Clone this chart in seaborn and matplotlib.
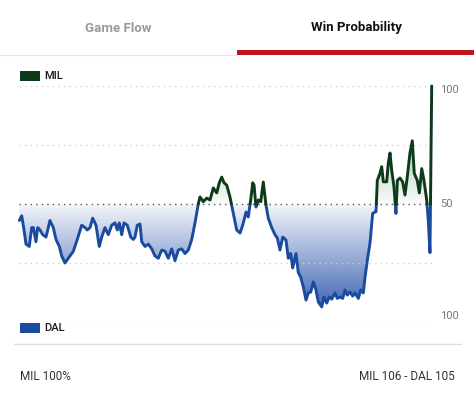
import numpy as np
import pandas as pd
import matplotlib
matplotlib.use("Agg")
import matplotlib.pyplot as plt
from matplotlib.colors import LinearSegmentedColormap
from matplotlib.path import Path
import seaborn as sns

# Game clock (minutes elapsed) and MIL win probability (%)
minutes = [
    0.0, 0.28, 0.55, 0.78, 1.16, 1.44, 1.63, 1.94, 2.14, 2.41, 2.72, 3.11, 3.57, 3.96,
    4.27, 4.66, 4.93, 5.32, 5.70, 6.29, 6.75, 7.26, 7.65, 7.91, 8.23, 8.54, 8.93, 9.31,
    9.59, 9.97, 10.36, 10.75, 11.14, 11.41, 11.64, 11.92, 12.19, 12.57, 12.97, 13.27,
    13.47, 13.73, 14.05, 14.25, 14.63, 15.01, 15.41, 15.79, 16.18, 16.57, 16.96, 17.34,
    17.74, 18.12, 18.51, 18.90, 19.29, 19.67, 20.07, 20.45, 20.83, 21.03, 21.42, 21.81,
    22.20, 22.58, 22.98, 23.28, 23.56, 23.83, 24.14, 24.52, 24.91, 25.30, 25.69, 26.00,
    26.39, 26.65, 26.93, 27.17, 27.32, 27.55, 27.82, 28.10, 28.40, 28.71, 28.98, 29.38,
    29.76, 30.03, 30.34, 30.66, 31.04, 31.31, 31.59, 31.82, 32.21, 32.47, 32.75, 33.06,
    33.37, 33.64, 33.92, 34.22, 34.53, 34.80, 35.20, 35.46, 35.78, 36.08, 36.36, 36.74,
    37.01, 37.33, 37.64, 37.91, 38.18, 38.49, 38.80, 39.07, 39.46, 39.74, 40.04, 40.24,
    40.50, 40.82, 41.13, 41.40, 41.52, 41.67, 41.98, 42.18, 42.37, 42.76, 42.95, 43.15,
    43.34, 43.61, 43.84, 44.00, 44.31, 44.62, 44.89, 45.16, 45.47, 45.74, 45.97, 46.32,
    46.56, 46.84, 47.10, 47.42, 47.60, 47.80, 48.0,
]
mil_wp = [
    43, 45, 39, 33, 32, 40, 40, 34, 40, 39, 37, 36, 43, 40,
    35, 32, 28, 25, 27, 30, 35, 41, 40, 39, 40, 44, 41, 32,
    36, 40, 37, 41, 42, 39, 42, 37, 42, 41, 36, 35,
    36, 41, 41.5, 34, 32, 33, 31, 28, 27, 30.5, 30, 27,
    31, 26, 30.5, 31, 29, 30.5, 35, 42, 50, 53, 51, 52.5,
    51.7, 56.8, 54.7, 59, 61.4, 59, 58, 53, 46, 39, 37.7, 41,
    46.6, 44.5, 51.7, 59, 58, 48.7, 51.7, 51, 59.3, 49.6, 44, 40,
    37, 35.6, 30.5, 36, 34.7, 27, 29, 22.9, 29, 21, 19, 14.8,
    9.3, 12.3, 12.7, 17, 13.6, 8.5, 6.4, 10.6, 8, 10.6, 9.7, 12.3,
    10, 10.6, 10, 13.6, 11.4, 12.7, 11, 12.3, 10, 13.6, 12.3, 19,
    26, 33.5, 46, 46.6, 46.7, 60, 63, 65.8, 59.4, 59.4, 67.4, 71.6,
    64.4, 57.3, 46, 60, 61, 59.4, 53.8, 61.6, 71.6, 76.8, 63, 60,
    54.7, 65, 60, 51.7, 43, 29.4, 100,
]
teams = ["MIL", "DAL"]
team_colors = {"MIL": "#0c3b1a", "DAL": "#1a4b9f"}
tab_labels = ["Game Flow", "Win Probability"]
axis_labels = ["100", "50", "100"]
footer_left = "MIL 100%"
footer_right = "MIL 106 - DAL 105"

# split the curve at the 50% line so each side gets its own colour
x = np.asarray(minutes, dtype=float)
y = np.asarray(mil_wp, dtype=float)
rows = []
seg = 0
for i in range(len(x)):
    side = "MIL" if y[i] >= 50 else "DAL"
    if i > 0:
        prev = "MIL" if y[i - 1] >= 50 else "DAL"
        if prev != side:
            t = (50 - y[i - 1]) / (y[i] - y[i - 1])
            xc = x[i - 1] + t * (x[i] - x[i - 1])
            rows.append({"minute": xc, "wp": 50.0, "team": prev, "seg": seg})
            seg += 1
            rows.append({"minute": xc, "wp": 50.0, "team": side, "seg": seg})
    rows.append({"minute": x[i], "wp": y[i], "team": side, "seg": seg})
df = pd.DataFrame(rows)

sns.set_theme(style="white")
plt.rcParams["font.family"] = ["Roboto", "DejaVu Sans"]

W, H = 474, 394
fig = plt.figure(figsize=(W / 100, H / 100), dpi=100)
fig.patch.set_facecolor("white")

ax_left, ax_right = 19.3, 431.7
ax_top, ax_bot = 86, 322
ax = fig.add_axes([ax_left / W, 1 - ax_bot / H, (ax_right - ax_left) / W, (ax_bot - ax_top) / H])
ax.set_xlim(0, 48)
ax.set_ylim(0, 100)
ax.axis("off")

# gradient fill between the curve and the 50 line
cmap = LinearSegmentedColormap.from_list(
    "wp", [(0.0, "#2a55ab"), (0.5, "#f4f6fb"), (0.5001, "#fbfcfb"), (1.0, "#7f9784")]
)
grad = np.linspace(0, 1, 400).reshape(-1, 1)
img = ax.imshow(grad, extent=[0, 48, 0, 100], origin="lower", aspect="auto",
                cmap=cmap, zorder=1, interpolation="bilinear")
verts = ([(df["minute"].iloc[0], 50)] + list(zip(df["minute"], df["wp"]))
         + [(df["minute"].iloc[-1], 50), (df["minute"].iloc[0], 50)])
img.set_clip_path(Path(verts, closed=True), transform=ax.transData)

# dotted grid lines
for level in [0, 25, 75, 100]:
    ax.axhline(level, color="#cfcfcf", lw=1.0, ls=(0, (1, 3)), zorder=2)
ax.axhline(50, color="#555555", lw=1.0, ls=(0, (1, 3)), zorder=2)

sns.lineplot(data=df, x="minute", y="wp", hue="team", units="seg", estimator=None,
             palette=team_colors, lw=2.1, sort=False, legend=False, ax=ax, zorder=3)
for line in ax.lines:
    if line.get_linestyle() == "-":
        line.set_clip_on(False)
        line.set_solid_joinstyle("round")

# right side scale labels
for val, lab in zip([100, 50, 0], axis_labels):
    off = {100: -1.5, 50: 0, 0: 2.5}[val]
    ax.text(1.02, (val + off) / 100, lab, transform=ax.transAxes, ha="left",
            va="center", fontsize=8, color="#777777")

# tabs
fig.text(118 / W, 1 - 28 / H, tab_labels[0], ha="center", va="center",
         fontsize=9.5, fontweight="bold", color="#9a9a9a")
fig.text(356 / W, 1 - 28 / H, tab_labels[1], ha="center", va="center",
         fontsize=9.5, fontweight="bold", color="#111111")
fig.add_artist(plt.Line2D([0, 237 / W], [1 - 55 / H] * 2, color="#e6e6e6", lw=0.8))
fig.add_artist(plt.Rectangle((237 / W, 1 - 54.5 / H), 1 - 237 / W, 4 / H,
                             color="#c0141c", lw=0))

# legend swatches
for team, ypix in zip(teams, [76, 328]):
    fig.add_artist(plt.Rectangle((20 / W, 1 - (ypix + 5) / H), 20 / W, 10 / H,
                                 color=team_colors[team], lw=0))
    fig.text(44 / W, 1 - ypix / H, team, ha="left", va="center", fontsize=8,
             fontweight="medium", color="#1a1a1a")

# separator and footer
fig.add_artist(plt.Line2D([14 / W, 461 / W], [1 - 344 / H] * 2, color="#dcdcdc", lw=1.0))
fig.text(20 / W, 1 - 376 / H, footer_left, ha="left", va="center", fontsize=8.5, color="#333333")
fig.text(455 / W, 1 - 376 / H, footer_right, ha="right", va="center", fontsize=8.5, color="#333333")

fig.savefig("out.png", dpi=100, facecolor="white")
